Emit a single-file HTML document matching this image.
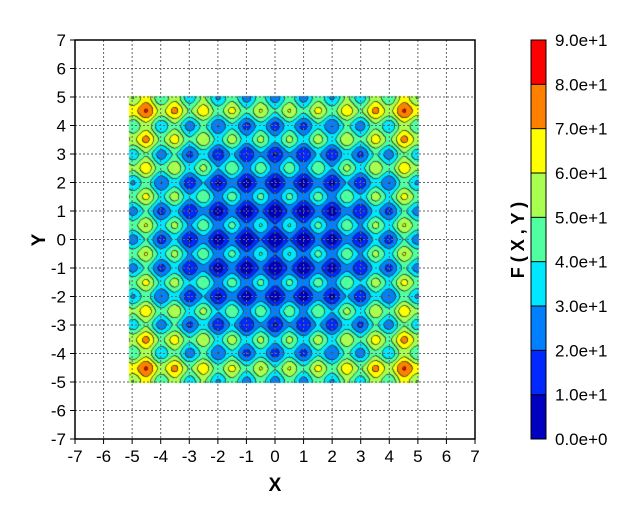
<!DOCTYPE html>
<html><head><meta charset="utf-8"><style>
body{margin:0;background:#fff;}
svg text{font-family:"Liberation Sans",sans-serif;}
</style></head><body>
<div style="position:relative;width:626px;height:520px;">
<canvas id="field" width="626" height="520" style="position:absolute;left:0;top:0"></canvas>
<svg id="svg" width="626" height="520" style="position:absolute;left:0;top:0"></svg>
</div>
<script>
const xTicks=[-7,-6,-5,-4,-3,-2,-1,0,1,2,3,4,5,6,7];
const yTicks=[-7,-6,-5,-4,-3,-2,-1,0,1,2,3,4,5,6,7];
const levels=[0,10,20,30,40,50,60,70,80,90];
const levelLabels=["0.0e+0","1.0e+1","2.0e+1","3.0e+1","4.0e+1","5.0e+1","6.0e+1","7.0e+1","8.0e+1","9.0e+1"];
const levelColors=["#0000c0","#0028ff","#0080ff","#00e8ff","#50ffa0","#a8ff50","#ffff00","#ff8000","#ff0000"];
const domainX=[-5.1,5.05];
const domainY=[-5.05,5.05];
const L=75,R=475,T=40,B=439;
const sx=v=>L+(v+7)/14*(R-L);
const sy=v=>B-(v+7)/14*(B-T);
const ix=p=>(p-L)/(R-L)*14-7;
const iy=p=>(B-p)/(B-T)*14-7;
function f(x,y){return 20+x*x-10*Math.cos(2*Math.PI*x)+y*y-10*Math.cos(2*Math.PI*y);}
function lev(v){for(let i=levels.length-1;i>=0;i--)if(v>=levels[i])return Math.min(i,levelColors.length-1);return 0;}
const cv=document.getElementById('field'),ctx=cv.getContext('2d');
const x0=Math.round(sx(domainX[0])),x1=Math.round(sx(domainX[1])),y0=Math.round(sy(domainY[1])),y1=Math.round(sy(domainY[0]));
const W=x1-x0,H=y1-y0,S=2;
const g=[];for(let j=0;j<=H*S;j++){g[j]=[];for(let i=0;i<=W*S;i++){g[j][i]=lev(f(ix(x0+i/S),iy(y0+j/S)));}}
const img=ctx.createImageData(W,H);
function hex(c){return [parseInt(c.substr(1,2),16),parseInt(c.substr(3,2),16),parseInt(c.substr(5,2),16)];}
const rgb=levelColors.map(hex);
for(let j=0;j<H;j++)for(let i=0;i<W;i++){
 let r=0,gg=0,b=0,edge=0;
 for(let a=0;a<S;a++)for(let c=0;c<S;c++){const l=g[j*S+a][i*S+c];r+=rgb[l][0];gg+=rgb[l][1];b+=rgb[l][2];
  if(g[j*S+a][i*S+c+1]!==l||g[j*S+a+1][i*S+c]!==l)edge++;}
 const n=S*S;r/=n;gg/=n;b/=n;const k=Math.min(1,edge/n*1.6)*0.8;
 const p=(j*W+i)*4;img.data[p]=r*(1-k)+20*k;img.data[p+1]=gg*(1-k)+30*k;img.data[p+2]=b*(1-k)+20*k;img.data[p+3]=255;}
ctx.putImageData(img,x0,y0);
const svg=document.getElementById('svg');const NS='http://www.w3.org/2000/svg';
function el(t,a,txt){const e=document.createElementNS(NS,t);for(const k in a)e.setAttribute(k,a[k]);if(txt!==undefined)e.textContent=txt;svg.appendChild(e);return e;}
xTicks.forEach(v=>{if(v>-7&&v<7){const e=el('line',{x1:sx(v),x2:sx(v),y1:T,y2:B,stroke:'#666','stroke-dasharray':'2,2'});}
 const t=el('text',{x:sx(v),y:B+23,'font-size':17,'text-anchor':'middle'},v);
 el('line',{x1:sx(v),x2:sx(v),y1:B,y2:B+5,stroke:'#000'});});
yTicks.forEach(v=>{if(v>-7&&v<7){const e=el('line',{x1:L,x2:R,y1:sy(v),y2:sy(v),stroke:'#666','stroke-dasharray':'2,2'});}
 const t=el('text',{x:L-9,y:sy(v)+6,'font-size':17,'text-anchor':'end'},v);
 el('line',{x1:L-5,x2:L,y1:sy(v),y2:sy(v),stroke:'#000'});});
const ax=el('rect',{x:L,y:T,width:R-L,height:B-T,fill:'none',stroke:'#000','stroke-width':1.5});

let t=el('text',{x:275,y:491,'font-size':19,'font-weight':'bold','text-anchor':'middle'},'X');
t=el('text',{x:38,y:247,'font-size':19,'font-weight':'bold','text-anchor':'middle',transform:'rotate(-90 38 240)'},'Y');
const cbL=531,cbW=15;const cy=v=>B-(v-levels[0])/(levels[levels.length-1]-levels[0])*(B-T);
levelColors.forEach((c,i)=>{const r=el('rect',{x:cbL,y:cy(levels[i+1]),width:cbW,height:cy(levels[i])-cy(levels[i+1]),fill:c});});
levels.forEach((v,i)=>{el('line',{x1:cbL,x2:cbL+cbW,y1:cy(v),y2:cy(v),stroke:'#000'});
 const tt=el('text',{x:555,y:cy(v)+6,'font-size':17},levelLabels[i]);});
el('rect',{x:cbL,y:T,width:cbW,height:B-T,fill:'none',stroke:'#000'});
t=el('text',{x:524,y:240,'font-size':18,'font-weight':'bold','text-anchor':'middle',transform:'rotate(-90 524 240)'},'F ( X , Y )');
</script>
</body></html>
